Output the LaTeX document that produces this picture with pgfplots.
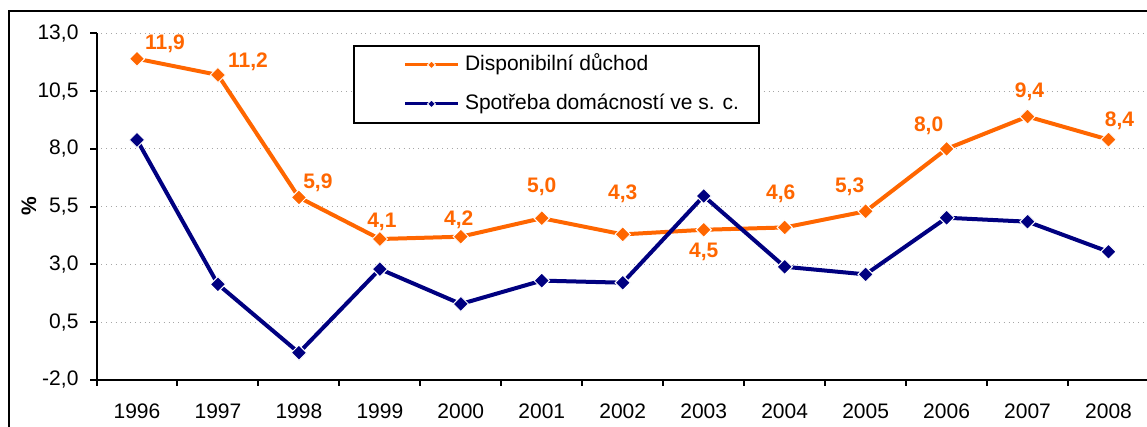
\documentclass[border=0pt]{standalone}
\usepackage{fontspec}
\setmainfont{Liberation Sans}
\usepackage{pgfplots}
\usepackage{pgfplotstable}
\pgfplotsset{compat=1.18}
\definecolor{dorange}{HTML}{FF6600}
\definecolor{dnavy}{HTML}{000080}

\pgfplotstableread{
x y dx dy lab
0 11.9 14 7.5 11,9
1 11.2 15 6.5 11,2
2 5.9 9.5 7.5 5,9
3 4.1 1 8.5 4,1
4 4.2 -1 8.5 4,2
5 5.0 0 15.5 5,0
6 4.3 0 20.5 4,3
7 4.5 0 -11 4,5
8 4.6 -2 17 4,6
9 5.3 -8 12 5,3
10 8.0 -9 11.5 8,0
11 9.4 1 12.5 9,4
12 8.4 5.5 9.5 8,4
}\disp

\pgfplotstableread{
x y
0 8.39
1 2.14
2 -0.82
3 2.80
4 1.29
5 2.30
6 2.21
7 5.96
8 2.90
9 2.57
10 5.02
11 4.85
12 3.55
}\spotr

\begin{document}
\begin{tikzpicture}
\path[use as bounding box] (0pt,0pt) rectangle (573.5pt,213.5pt);
\clip (0pt,0pt) rectangle (573.5pt,213.5pt);
\draw[line width=1pt] (4.5pt,-10pt) -- (4.5pt,208pt) -- (600pt,208pt);
\begin{axis}[
  at={(48.25pt,23.5pt)}, anchor=south west,
  scale only axis, width=526.25pt, height=173.33pt,
  xmin=-0.5, xmax=12.5, ymin=-2, ymax=13,
  axis x line*=bottom, axis y line*=left,
  axis line style={line width=1pt, black, -},
  ytick={-2,0.5,3,5.5,8,10.5,13},
  yticklabel style={font=\fontsize{10.5}{12}\selectfont, xshift=-2.5pt,
    /pgf/number format/fixed, /pgf/number format/fixed zerofill,
    /pgf/number format/precision=1, /pgf/number format/use comma,
    /pgf/number format/assume math mode=true},
  ymajorgrids,
  grid style={gray!70, dotted, line width=0.6pt},
  xtick={-0.5,0.5,...,12.5},
  xticklabels={},
  extra x ticks={0,1,...,12},
  extra x tick labels={1996,1997,1998,1999,2000,2001,2002,2003,2004,2005,2006,2007,2008},
  extra x tick style={major tick length=0pt, xticklabel style={font=\fontsize{10.5}{12}\selectfont, yshift=-8.5pt}},
  tick align=outside,
  major tick length=3pt,
  tick style={line width=1pt, black},
  ylabel={\bfseries\%},
  every axis y label/.style={at={(axis description cs:0,0.5)}, xshift=-33.75pt, rotate=90, anchor=center, font=\fontsize{10.5}{12}\selectfont},
  legend style={at={(axis description cs:0.2440,0.9664)}, anchor=north west,
    draw=black, line width=1pt, inner xsep=0pt, inner ysep=4.5pt,
    row sep=9.5pt,
    nodes={inner xsep=0pt, inner ysep=0pt, text height=8pt, text depth=2pt},
    font=\fontsize{10.5}{12}\selectfont},
  legend cell align=left,
  legend image code/.code={
    \path[draw=none, fill=none] (0pt,0pt) -- (55.35pt,0pt);
    \draw[#1, line width=1.5pt, mark repeat=2, mark phase=2, mark size=1.4pt] plot coordinates {(25.35pt,0pt) (38.6pt,0pt) (51.85pt,0pt)};
  },
]
\addplot[color=dorange, line width=2pt, mark=square*, mark size=2.7pt,
  mark options={rotate=45, fill=dorange, draw=white, line width=0.5pt},
  point meta=explicit symbolic,
  visualization depends on={\thisrow{dx} \as \dxx},
  visualization depends on={\thisrow{dy} \as \dyy},
  nodes near coords,
  nodes near coords style={anchor=center, xshift=\dxx pt, yshift=\dyy pt, text=dorange, font=\bfseries\fontsize{10.5}{12}\selectfont}
] table[x=x, y=y, meta=lab] {\disp};
\addlegendentry{Disponibilní důchod}
\addplot[color=dnavy, line width=2pt, mark=square*, mark size=2.7pt,
  mark options={rotate=45, fill=dnavy, draw=white, line width=0.5pt}
] table[x=x, y=y] {\spotr};
\addlegendentry{\makebox[147.15pt][l]{Spotřeba domácností ve s. c.}}
\end{axis}
\end{tikzpicture}
\end{document}
